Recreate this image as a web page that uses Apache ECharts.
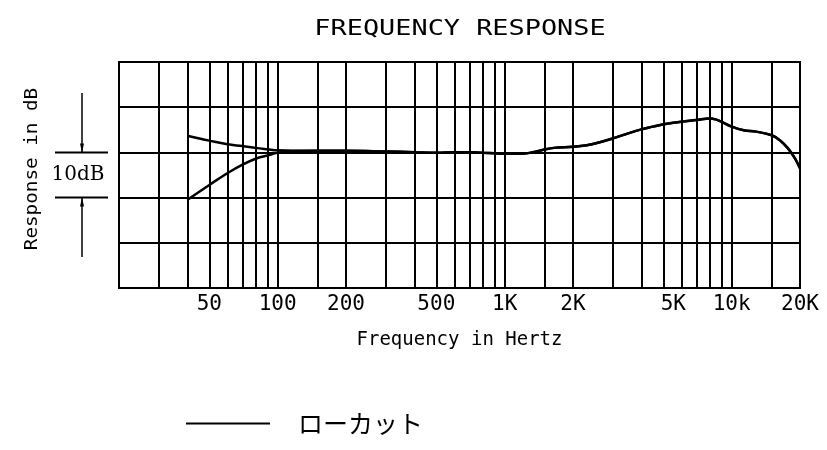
<!DOCTYPE html>
<html>
<head>
<meta charset="utf-8">
<script src="https://cdn.jsdelivr.net/npm/echarts@6/dist/echarts.min.js"></script>
<style>
  html, body { margin: 0; padding: 0; background: #fff; }
  #main { width: 827px; height: 450px; }
</style>
</head>
<body>
<div id="main"></div>
<script>
// 周波数 (Hz) と応答 (dB)
const freqFlat = [40, 50, 60, 70, 80, 90, 100, 120, 150, 200, 300, 400, 500, 600, 700, 800, 900, 1000, 1200, 1350, 1500, 1650, 2000, 2300, 2600, 3000, 3400, 4000, 4500, 5100, 6000, 7000, 8000, 8500, 9000, 10000, 11300, 12800, 15000, 16300, 17700, 19000, 20000];
const dbFlat = [3.7, 2.6, 1.8, 1.4, 1.0, 0.7, 0.45, 0.35, 0.35, 0.35, 0.2, 0.05, -0.05, 0.05, 0.05, -0.1, -0.2, -0.3, -0.3, 0.1, 0.65, 1.0, 1.25, 1.6, 2.2, 3.1, 4.0, 5.1, 5.7, 6.3, 6.8, 7.15, 7.5, 7.3, 6.8, 5.7, 4.9, 4.6, 3.8, 2.7, 0.9, -1.3, -3.5];

// ローカット
const freqLowCut = [40, 50, 60, 70, 80, 90, 100, 120, 150, 200, 300, 400, 500, 600, 700, 800, 900, 1000, 1200, 1350, 1500, 1650, 2000, 2300, 2600, 3000, 3400, 4000, 4500, 5100, 6000, 7000, 8000, 8500, 9000, 10000, 11300, 12800, 15000, 16300, 17700, 19000, 20000];
const dbLowCut = [-10.5, -7.2, -4.6, -2.7, -1.4, -0.7, -0.1, 0.3, 0.35, 0.35, 0.2, 0.05, -0.05, 0.05, 0.05, -0.1, -0.2, -0.3, -0.3, 0.1, 0.65, 1.0, 1.25, 1.6, 2.2, 3.1, 4.0, 5.1, 5.7, 6.3, 6.8, 7.15, 7.5, 7.3, 6.8, 5.7, 4.9, 4.6, 3.8, 2.7, 0.9, -1.3, -3.5];

// 縦のグリッド線
const gridFreqs = [30, 40, 50, 60, 70, 80, 90, 100, 150, 200, 300, 400, 500, 600, 700, 800, 900, 1000, 1500, 2000, 3000, 4000, 5000, 6000, 7000, 8000, 9000, 10000, 15000, 20000];
// 目盛りラベル
const tickFreqs = [50, 100, 200, 500, 1000, 2000, 5000, 10000, 20000];
const tickLabels = ['50', '100', '200', '500', '1K', '2K', '5K', '10k', '20K'];

const monoFont = '"DejaVu Sans Mono", monospace';

let chart = echarts.init(document.getElementById('main'), null, {renderer: 'canvas'});

// markLine: 縦線 + 下のラベル
let markData = gridFreqs.map(f => {
    let idx = tickFreqs.indexOf(f);
    let item = {xAxis: f};
    if (idx >= 0) {
        item.label = {
            show: true,
            position: 'start',
            distance: 6,
            formatter: tickLabels[idx],
            fontFamily: monoFont,
            fontSize: 21,
            color: '#000'
        };
        if (f === 5000) item.label.offset = [10, 0];
    }
    return item;
});

let option = {
    animation: false,
    grid: {
        left: 119,
        right: 27,
        top: 62,
        bottom: 162,
        show: true,
        borderColor: '#000',
        borderWidth: 2,
        backgroundColor: 'transparent'
    },
    legend: {
        data: [{name: 'ローカット', icon: 'rect'}],
        left: 181,
        top: 406,
        itemWidth: 84,
        itemHeight: 2,
        selectedMode: false,
        textStyle: {
            fontFamily: '"Noto Sans CJK JP"',
            fontSize: 25,
            color: '#000',
            padding: [0, 0, 0, 23]
        }
    },
    xAxis: {
        type: 'log',
        logBase: 10,
        min: 20,
        max: 20000,
        name: 'Frequency in Hertz',
        nameLocation: 'middle',
        nameGap: 43,
        nameTextStyle: {fontFamily: monoFont, fontSize: 19, color: '#000'},
        axisLine: {show: false},
        axisTick: {show: false},
        axisLabel: {show: false},
        splitLine: {show: false}
    },
    yAxis: {
        type: 'value',
        min: -30,
        max: 20,
        interval: 10,
        axisLine: {show: false},
        axisTick: {show: false},
        axisLabel: {show: false},
        splitLine: {show: true, lineStyle: {color: '#000', width: 2}}
    },
    series: [
        {
            name: 'フラット',
            type: 'line',
            data: freqFlat.map((f, i) => [f, dbFlat[i]]),
            smooth: 0.4,
            symbol: 'none',
            color: '#000',
            lineStyle: {color: '#000', width: 2.5},
            z: 5,
            markLine: {
                silent: true,
                animation: false,
                symbol: ['none', 'none'],
                lineStyle: {color: '#000', width: 2, type: 'solid'},
                label: {show: false},
                emphasis: {disabled: true},
                data: markData
            }
        },
        {
            name: 'ローカット',
            type: 'line',
            data: freqLowCut.map((f, i) => [f, dbLowCut[i]]),
            smooth: 0.4,
            symbol: 'none',
            color: '#000',
            lineStyle: {color: '#000', width: 2.5},
            z: 5
        }
    ]
};
chart.setOption(option);

// 左側の注記 (10dB の寸法)
let y0 = chart.convertToPixel({yAxisIndex: 0}, 0);
let y10 = chart.convertToPixel({yAxisIndex: 0}, -10);
let ax = 82;

chart.setOption({
    graphic: [
        {
            type: 'text',
            x: 460,
            y: 30,
            scaleX: 1.28,
            style: {
                text: 'FREQUENCY RESPONSE',
                font: '21px ' + monoFont,
                fill: '#000',
                align: 'center', verticalAlign: 'middle',
                textAlign: 'center', textVerticalAlign: 'middle'
            }
        },
        {
            type: 'text',
            x: 32,
            y: 169,
            rotation: Math.PI / 2,
            scaleX: 1.07,
            style: {
                text: 'Response in dB',
                font: '18px ' + monoFont,
                fill: '#000',
                align: 'center', verticalAlign: 'middle',
                textAlign: 'center', textVerticalAlign: 'middle'
            }
        },
        {
            type: 'text',
            x: 78,
            y: (y0 + y10) / 2,
            style: {
                text: '10dB',
                font: '20px "DejaVu Serif", serif',
                fill: '#000',
                align: 'center', verticalAlign: 'middle',
                textAlign: 'center', textVerticalAlign: 'middle'
            }
        },
        {type: 'line', shape: {x1: 55, y1: y0, x2: 108, y2: y0}, style: {stroke: '#000', lineWidth: 2}},
        {type: 'line', shape: {x1: 55, y1: y10, x2: 108, y2: y10}, style: {stroke: '#000', lineWidth: 2}},
        {type: 'line', shape: {x1: ax, y1: 93, x2: ax, y2: y0}, style: {stroke: '#000', lineWidth: 1.5}},
        {type: 'line', shape: {x1: ax, y1: y10, x2: ax, y2: 257}, style: {stroke: '#000', lineWidth: 1.5}},
        {type: 'polygon', shape: {points: [[ax - 2, y0 - 9], [ax + 2, y0 - 9], [ax, y0]]}, style: {fill: '#000'}},
        {type: 'polygon', shape: {points: [[ax - 2, y10 + 9], [ax + 2, y10 + 9], [ax, y10]]}, style: {fill: '#000'}}
    ]
});
</script>
</body>
</html>
